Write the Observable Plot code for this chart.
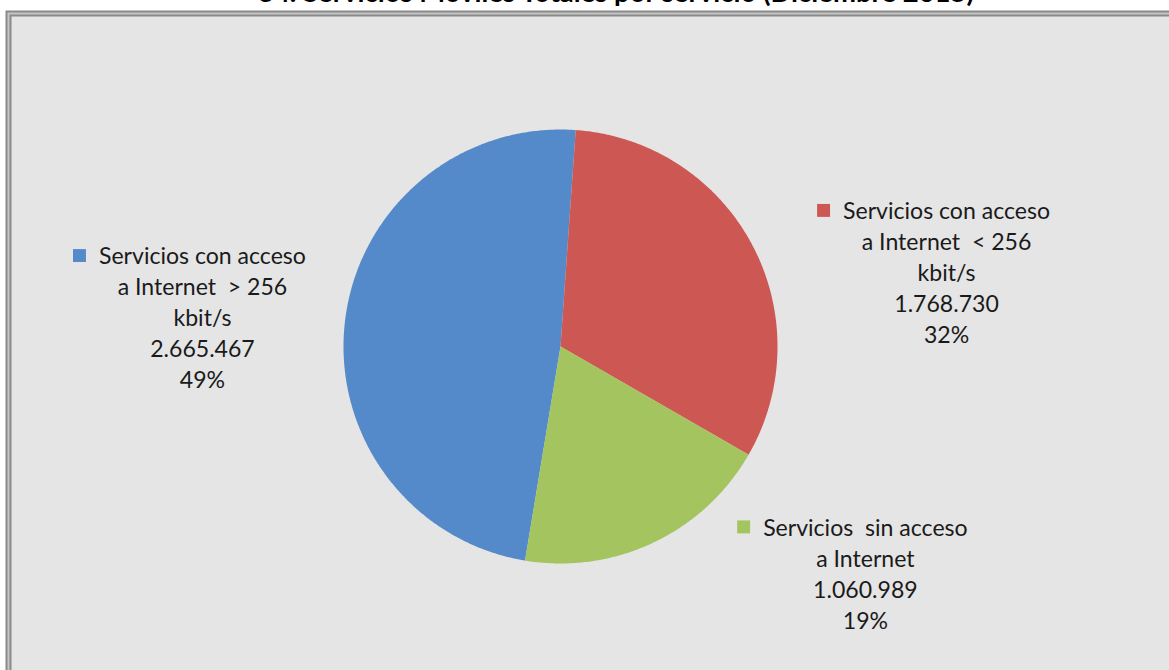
<!DOCTYPE html>
<html>
<head>
<meta charset="utf-8">
<script src="https://cdn.jsdelivr.net/npm/d3@7"></script>
<script src="https://cdn.jsdelivr.net/npm/@observablehq/plot@0.6"></script>
<style>
html, body { margin: 0; padding: 0; background: #ffffff; overflow: hidden; }
#chart svg text { white-space: pre; }
</style>
</head>
<body>
<div id="chart"></div>
<script>
// ---- data ----
const title = "34. Servicios Móviles Totales por servicio (Diciembre 2015)";
const categories = [
  "Servicios con acceso a Internet > 256 kbit/s",
  "Servicios con acceso a Internet < 256 kbit/s",
  "Servicios sin acceso a Internet"
];
const labelLines = [
  ["Servicios con acceso", "a Internet  > 256", "kbit/s"],
  ["Servicios con acceso", "a Internet  < 256", "kbit/s"],
  ["Servicios  sin acceso", "a Internet"]
];
const values = [2665467, 1768730, 1060989];
const percentLabels = ["49%", "32%", "19%"];
const valueLabels = ["2.665.467", "1.768.730", "1.060.989"];
const colors = ["#558ACA", "#CD5753", "#A3C45E"];

// ---- layout (not data) ----
const W = 1169, H = 670;
const R = 217, CX = 560, CY = 346;          // pie radius / centre in px
const startDeg = -170.6;                     // first slice start, clockwise from north
const labelOffsets = [[-1.650, -0.138], [1.779, -0.346], [1.405, 1.041]]; // label centres in radii
const fontFamily = "Lato, 'Open Sans', sans-serif";
const lineH = 31;

// fit font sizes to the reference's text widths
const ctx = document.createElement("canvas").getContext("2d");
function fit(str, target, weight) {
  ctx.font = `${weight} 100px ${fontFamily}`;
  return 100 * target / ctx.measureText(str).width;
}
const fontSize = fit("Servicios con acceso", 207, "normal");
const titleSize = fit(title, 718, "bold");

// ---- slices via d3.pie ----
const pie = d3.pie().sort(null).value(d => d.value)
  .startAngle(startDeg * Math.PI / 180)
  .endAngle((startDeg + 360) * Math.PI / 180);
const rows = categories.map((c, i) => ({cat: c, value: values[i], i}));
const arcs = pie(rows);
const pts = [];
for (const a of arcs) {
  pts.push({cat: a.data.cat, x: 0, y: 0});
  const n = Math.max(2, Math.ceil((a.endAngle - a.startAngle) / (Math.PI / 360)));
  for (let k = 0; k <= n; k++) {
    const t = a.startAngle + (a.endAngle - a.startAngle) * k / n;
    pts.push({cat: a.data.cat, x: Math.sin(t), y: Math.cos(t)});
  }
}

// ---- labels ----
ctx.font = `${fontSize}px ${fontFamily}`;
const labels = rows.map((r, i) => {
  const lines = [...labelLines[i], valueLabels[i], percentLabels[i]];
  const [ox, oy] = labelOffsets[i];
  return {cat: r.cat, text: lines.join("\n"), n: lines.length, x: ox, y: -oy, first: lines[0]};
});
const keys = labels.map(l => {
  const w = ctx.measureText(l.first).width;
  const topY = l.y + ((l.n - 1) / 2) * lineH / R - 1 / R;  // first line centre (data units, y up)
  return {cat: l.cat, x: l.x - (w / 2 + 13 + 6.5) / R, y: topY};
});

const chart = Plot.plot({
  width: W, height: H,
  margin: 0,
  style: {background: "transparent", fontFamily, overflow: "visible"},
  x: {domain: [-CX / R, (W - CX) / R], axis: null},
  y: {domain: [-(H - CY) / R, CY / R], axis: null},
  color: {domain: categories, range: colors},
  marks: [
    Plot.frame({fill: "#E5E5E5", stroke: "#8A8A8A", strokeWidth: 6, insetLeft: 8, insetTop: 13, insetRight: -20, insetBottom: -20}),
    Plot.frame({stroke: "#C6C6C6", strokeWidth: 2, insetLeft: 8, insetTop: 13, insetRight: -20, insetBottom: -20}),
    Plot.line(pts, {x: "x", y: "y", z: "cat", fill: "cat", stroke: "none", curve: "linear"}),
    Plot.dot(keys, {x: "x", y: "y", fill: "cat", symbol: "square", r: 7.3, stroke: "none"}),
    Plot.text(labels, {x: "x", y: "y", text: "text", fontSize, lineHeight: lineH / fontSize, lineAnchor: "middle", textAnchor: "middle", fill: "#1a1a1a"}),
    Plot.text([title], {frameAnchor: "top", text: d => d, fontSize: titleSize, fontWeight: "bold", lineAnchor: "bottom", dx: 31, dy: 1, fill: "#000"})
  ]
});
document.getElementById("chart").append(chart);
</script>
</body>
</html>
